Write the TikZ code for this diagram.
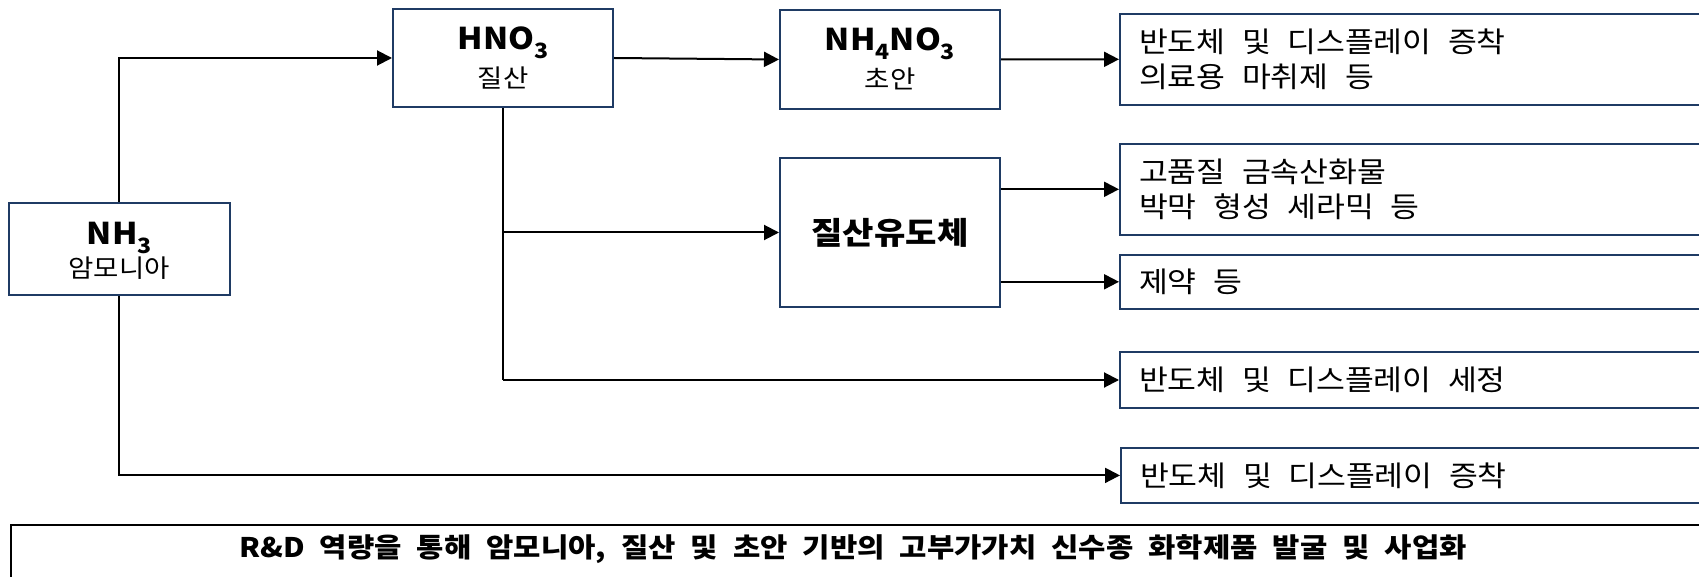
\documentclass[tikz,border=0pt]{standalone}
\usepackage{fontspec}
\setmainfont{Noto Sans CJK KR}[FakeStretch=1.1]
\usetikzlibrary{arrows.meta}
\definecolor{navy}{RGB}{31,59,100}
\newcommand{\sbs}[1]{\raisebox{-0.28em}{\fontsize{21}{21}\selectfont #1}}
\protected\def\rsp{\spaceskip=16.5pt\relax}
\protected\def\tsp{\spaceskip=15pt\relax}
\tikzset{
  box/.style={draw=navy, line width=2pt, rectangle, inner sep=0pt, align=center},
  rbox/.style={draw=navy, line width=2pt, rectangle, anchor=west, minimum width=620pt, inner xsep=19pt, inner ysep=0pt, text width=582pt, align=left, font=\fontsize{28.5}{35}\selectfont},
  conn/.style={line width=2pt, -{Triangle[length=15pt,width=15pt]}},
  chem/.style={font=\fontsize{30}{34}\selectfont\bfseries},
  kor/.style={font=\fontsize{25}{34}\selectfont}
}
\begin{document}
\begin{tikzpicture}[x=1pt,y=-1pt]
\useasboundingbox (0,0) rectangle (1699,577);
\clip (0,0) rectangle (1699,577);
% main boxes
\node[box, minimum width=221pt, minimum height=92pt] (nh3) at (119.2,248.6) {};
\node[box, minimum width=220pt, minimum height=98.6pt] (hno3) at (503,58) {};
\node[box, minimum width=220pt, minimum height=99pt] (nh4) at (890,59.5) {};
\node[box, minimum width=220pt, minimum height=149pt] (deriv) at (890,232.5) {};
\node[chem, anchor=base] (nh3t) at (119.2,245) {NH\sbs{3}};
\node[kor] (nh3k) at (119.2,268) {암모니아};
\node[chem, anchor=base] (hno3t) at (503,50) {HNO\sbs{3}};
\node[kor] (hno3k) at (503,78) {질산};
\node[chem, anchor=base] (nh4t) at (890,51) {NH\sbs{4}NO\sbs{3}};
\node[kor] (nh4k) at (890,79) {초안};
\node[font=\fontsize{31}{34}\selectfont\bfseries] (derivt) at (890,232.5) {질산유도체};
% right boxes
\node[rbox, minimum height=90.7pt] (r1) at (1119,59.3) {\rsp 반도체 및 디스플레이 증착\\\rsp 의료용 마취제 등};
\node[rbox, minimum height=90.7pt] (r2) at (1119,189.3) {\rsp 고품질 금속산화물\\\rsp 박막 형성 세라믹 등};
\node[rbox, minimum height=54pt] (r3) at (1119,281.8) {\rsp 제약 등};
\node[rbox, minimum height=55.7pt] (r4) at (1119,380) {\rsp 반도체 및 디스플레이 세정};
\node[rbox, minimum height=55pt] (r5) at (1120,475.4) {\rsp 반도체 및 디스플레이 증착};
% bottom box
\node[draw=black, line width=2pt, rectangle, anchor=north west, minimum width=1700pt, minimum height=60pt, inner sep=0pt] (bot) at (10,524) {};
\node[font=\fontsize{27}{30}\selectfont\bfseries\tsp] (bott) at (853,549) {R\&D 역량을 통해 암모니아, 질산 및 초안 기반의 고부가가치 신수종 화학제품 발굴 및 사업화};
% connectors
\coordinate (c1) at (119.2,58);
\coordinate (c2) at (119.2,475.4);
\coordinate (c3) at (503,232.5);
\coordinate (c4) at (503,380);
\draw[conn] (nh3.north) -- (c1) -- (hno3.west);
\draw[conn] (nh3.south) -- (c2) -- (r5.west);
\draw[conn] (hno3.east) -- (nh4.west);
\draw[conn] (nh4.east) -- (r1.west);
\draw[line width=2pt] (hno3.south) -- (c4);
\draw[conn] (c3) -- (deriv.west);
\draw[conn] (c4) -- (r4.west);
\draw[conn] (deriv.east |- r2.west) -- (r2.west);
\draw[conn] (deriv.east |- r3.west) -- (r3.west);
\end{tikzpicture}
\end{document}
